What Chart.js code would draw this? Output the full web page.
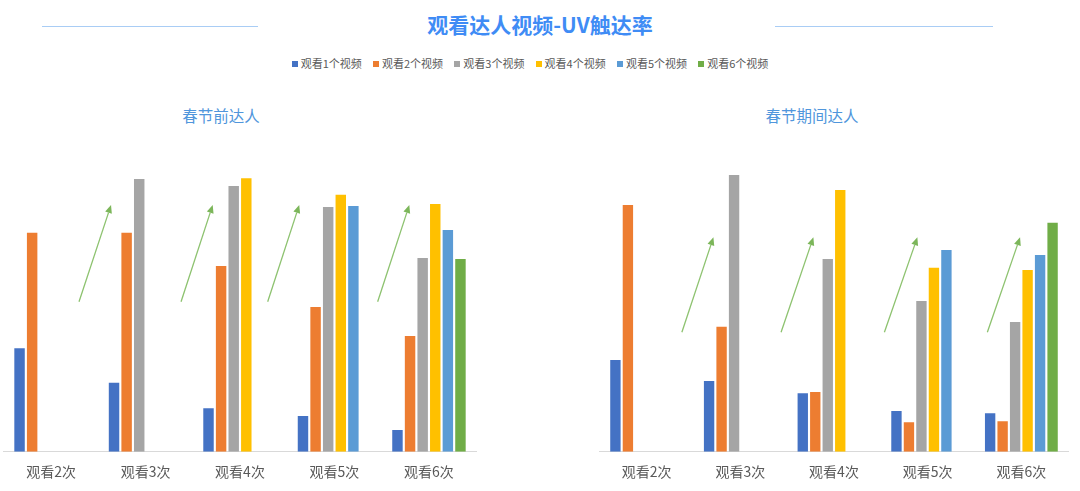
<!DOCTYPE html>
<html>
<head>
<meta charset="utf-8">
<script src="https://cdn.jsdelivr.net/npm/chart.js@4"></script>
<style>
  html, body { margin:0; padding:0; background:#fff; }
  body { width:1080px; height:491px; position:relative; overflow:hidden; font-family:"Noto Sans CJK SC","Noto Sans",sans-serif; }
  #title { position:absolute; left:0; width:1080px; top:9px; text-align:center; font-size:21px; font-weight:bold; color:#3f8cf5; line-height:30px; }
  .hline { position:absolute; top:26px; height:1px; background:#a9cdf5; }
  #legend { position:absolute; left:-10px; width:1080px; top:55px; text-align:center; font-size:11px; color:#595959; line-height:16px; white-space:nowrap; }
  #legend span.item { display:inline-block; margin:0 5.6px; }
  #legend span.box { display:inline-block; width:6px; height:6px; margin-right:3px; vertical-align:1px; }
  .sub { position:absolute; top:104px; font-size:15.5px; color:#5096dc; text-align:center; width:200px; line-height:22px; }
  canvas { position:absolute; }
</style>
</head>
<body>
<div class="hline" style="left:42px;width:216px"></div>
<div class="hline" style="left:775px;width:218px"></div>
<div id="title">观看达人视频-UV触达率</div>
<div id="legend"></div>
<div class="sub" style="left:121px">春节前达人</div>
<div class="sub" style="left:712px">春节期间达人</div>
<div style="position:absolute;left:0;top:140px;width:480px;height:351px"><canvas id="c1"></canvas></div>
<div style="position:absolute;left:596px;top:140px;width:476px;height:351px"><canvas id="c2"></canvas></div>
<script>
// categories
const categories = ["观看2次", "观看3次", "观看4次", "观看5次", "观看6次"];
const seriesNames = ["观看1个视频", "观看2个视频", "观看3个视频", "观看4个视频", "观看5个视频", "观看6个视频"];
const seriesColors = ["#4472c4", "#ed7d31", "#a5a5a5", "#ffc000", "#5b9bd5", "#70ad47"];

// 春节前达人 (values per series across categories)
const before1 = [103.4, 69.0, 43.4, 35.7, 21.7];
const before2 = [219.0, 219.0, 185.7, 144.7, 115.7];
const before3 = [null, 272.7, 265.7, 244.7, 193.7];
const before4 = [null, null, 273.4, 257.0, 247.7];
const before5 = [null, null, null, 245.7, 221.7];
const before6 = [null, null, null, null, 192.7];

// 春节期间达人
const during1 = [91.7, 70.7, 58.4, 40.7, 38.4];
const during2 = [246.7, 125.0, 59.7, 29.4, 30.4];
const during3 = [null, 276.7, 192.7, 150.7, 129.7];
const during4 = [null, null, 261.7, 184.0, 181.7];
const during5 = [null, null, null, 201.7, 196.7];
const during6 = [null, null, null, null, 229.0];

// trend arrows (positions in category units from the first category, values on the y scale)
const arrowsBeforeX0 = [0.296, 1.376, 2.293, 3.457];
const arrowsBeforeX1 = [0.635, 1.711, 2.627, 3.792];
const arrowsBeforeY0 = [150, 150, 150, 150];
const arrowsBeforeY1 = [246.7, 246.7, 246.7, 246.7];
const arrowsDuringX0 = [0.376, 1.435, 2.538, 3.637];
const arrowsDuringX1 = [0.713, 1.780, 2.890, 3.986];
const arrowsDuringY0 = [119.4, 119.4, 119.4, 119.4];
const arrowsDuringY1 = [214.4, 214.4, 214.4, 214.4];

const yMax = 300;

// legend
const legendEl = document.getElementById('legend');
seriesNames.forEach((n, i) => {
  const s = document.createElement('span'); s.className = 'item';
  const b = document.createElement('span'); b.className = 'box'; b.style.background = seriesColors[i];
  s.appendChild(b); s.appendChild(document.createTextNode(n));
  legendEl.appendChild(s);
});

const arrowPlugin = {
  id: 'arrows',
  afterDatasetsDraw(chart, args, opts) {
    const xs = chart.scales.x, ys = chart.scales.y;
    const cw = xs.getPixelForValue(1) - xs.getPixelForValue(0);
    const ctx = chart.ctx;
    ctx.save();
    ctx.strokeStyle = '#8dc26f';
    ctx.fillStyle = '#7cb65a';
    ctx.lineWidth = 1.3;
    for (let i = 0; i < opts.x0.length; i++) {
      const x0 = xs.getPixelForValue(0) + opts.x0[i] * cw;
      const x1 = xs.getPixelForValue(0) + opts.x1[i] * cw;
      const y0 = ys.getPixelForValue(opts.y0[i]);
      const y1 = ys.getPixelForValue(opts.y1[i]);
      const ang = Math.atan2(y1 - y0, x1 - x0);
      const hl = 8, hw = 3.5;
      const bx = x1 - hl * Math.cos(ang), by = y1 - hl * Math.sin(ang);
      ctx.beginPath(); ctx.moveTo(x0, y0); ctx.lineTo(bx, by); ctx.stroke();
      ctx.beginPath();
      ctx.moveTo(x1, y1);
      ctx.lineTo(bx + hw * Math.sin(ang), by - hw * Math.cos(ang));
      ctx.lineTo(bx - hw * Math.sin(ang), by + hw * Math.cos(ang));
      ctx.closePath(); ctx.fill();
    }
    ctx.restore();
  }
};

function makeChart(id, series, arrows) {
  return new Chart(document.getElementById(id), {
    type: 'bar',
    data: {
      labels: categories,
      datasets: series.map((d, i) => ({
        label: seriesNames[i], data: d, backgroundColor: seriesColors[i],
        barPercentage: 0.83, categoryPercentage: 0.8
      }))
    },
    options: {
      responsive: true, maintainAspectRatio: false, animation: false,
      layout: { padding: { left: 3.8, right: 3.8, top: 11.7, bottom: 0 } },
      plugins: { legend: { display: false }, title: { display: false }, tooltip: { enabled: false }, arrows },
      scales: {
        x: {
          grid: { display: false, drawTicks: false },
          border: { display: true, color: '#d9d9d9', width: 1 },
          ticks: { color: '#595959', font: { size: 14, family: '"Noto Sans CJK SC"' }, padding: 12 },
          afterFit(scale) { scale.height = 39.3; }
        },
        y: { display: false, min: 0, max: yMax }
      }
    },
    plugins: [arrowPlugin]
  });
}

makeChart('c1', [before1, before2, before3, before4, before5, before6],
  { x0: arrowsBeforeX0, x1: arrowsBeforeX1, y0: arrowsBeforeY0, y1: arrowsBeforeY1 });
makeChart('c2', [during1, during2, during3, during4, during5, during6],
  { x0: arrowsDuringX0, x1: arrowsDuringX1, y0: arrowsDuringY0, y1: arrowsDuringY1 });
</script>
</body>
</html>
